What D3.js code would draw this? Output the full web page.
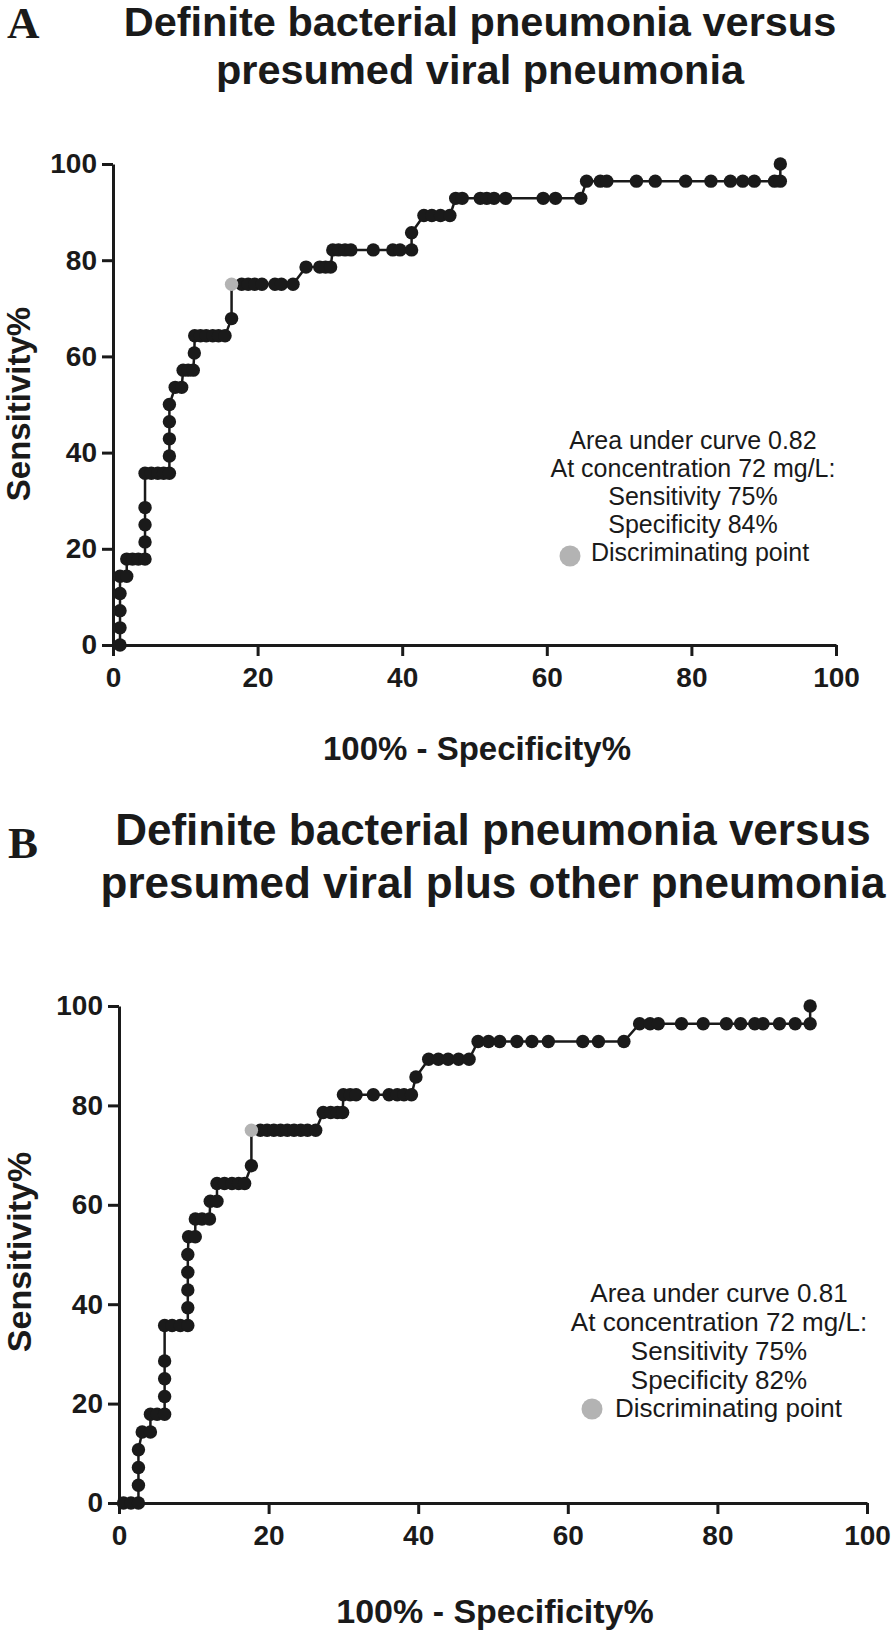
<!DOCTYPE html>
<html><head><meta charset="utf-8">
<script src="https://cdn.jsdelivr.net/npm/d3@7"></script>
<style>body{margin:0;background:#fff}svg{display:block}</style>
</head><body><svg id="c" width="894" height="1635"></svg>
<script>
// ---------- DATA ----------
const axisTicks = [0, 20, 40, 60, 80, 100];

const titleA = ["Definite bacterial pneumonia versus", "presumed viral pneumonia"];
const titleB = ["Definite bacterial pneumonia versus", "presumed viral plus other pneumonia"];
const xAxisTitle = "100% - Specificity%";
const yAxisTitle = "Sensitivity%";

const notesA = ["Area under curve 0.82", "At concentration 72 mg/L:", "Sensitivity 75%", "Specificity 84%"];
const notesB = ["Area under curve 0.81", "At concentration 72 mg/L:", "Sensitivity 75%", "Specificity 82%"];
const legendLabel = "Discriminating point";

// Panel A: 100% - specificity (x) and sensitivity (y)
const rocA_x = [
  0.97, 0.97, 0.97, 0.97, 0.97,
  1.9,
  1.9, 2.7, 3.5, 4.43,
  4.43, 4.43, 4.43,
  4.43, 5.3, 6.2, 7.0, 7.8,
  7.8, 7.8, 7.8, 7.8,
  8.6, 9.5,
  9.7, 10.4, 11.1,
  11.25,
  11.3, 12.1, 12.9, 13.8, 14.6, 15.5,
  16.4,
  16.4, 17.8, 18.7, 19.6, 20.6, 22.4, 23.3, 24.9,
  26.7, 28.6, 29.4, 30.1,
  30.4, 31.2, 32.1, 32.9, 36.0, 38.7, 39.7, 41.3,
  41.3,
  43.0, 44.1, 45.3, 46.6,
  47.4, 48.3, 50.8, 51.7, 52.7, 54.3, 59.5, 61.2, 64.7,
  65.5, 67.4, 68.3, 72.4, 75.0, 79.2, 82.7, 85.4, 87.1, 88.7, 91.5, 92.3,
  92.3
];
const rocA_y = [
  0, 3.57, 7.14, 10.71, 14.29,
  14.29,
  17.86, 17.86, 17.86, 17.86,
  21.43, 25, 28.57,
  35.71, 35.71, 35.71, 35.71, 35.71,
  39.29, 42.86, 46.43, 50,
  53.57, 53.57,
  57.14, 57.14, 57.14,
  60.71,
  64.29, 64.29, 64.29, 64.29, 64.29, 64.29,
  67.86,
  75, 75, 75, 75, 75, 75, 75, 75,
  78.57, 78.57, 78.57, 78.57,
  82.14, 82.14, 82.14, 82.14, 82.14, 82.14, 82.14, 82.14,
  85.71,
  89.29, 89.29, 89.29, 89.29,
  92.86, 92.86, 92.86, 92.86, 92.86, 92.86, 92.86, 92.86, 92.86,
  96.43, 96.43, 96.43, 96.43, 96.43, 96.43, 96.43, 96.43, 96.43, 96.43, 96.43, 96.43,
  100
];
const discA = [16.4, 75];

// Panel B
const rocB_x = [
  0.6, 1.6, 2.6,
  2.6, 2.6, 2.6,
  3.1, 4.2,
  4.2, 5.1, 6.1,
  6.1, 6.1, 6.1,
  6.1, 7.1, 8.2, 9.2,
  9.2, 9.2, 9.2, 9.2,
  9.3, 10.2,
  10.2, 11.1, 12.1,
  12.2, 13.1,
  13.1, 14.1, 15.1, 16.0, 16.8,
  17.7,
  17.7, 18.9, 19.8, 20.7, 21.6, 22.5, 23.4, 24.3, 25.2, 26.3,
  27.3, 28.3, 29.2, 29.9,
  30.0, 30.9, 31.7, 34.0, 36.1, 37.2, 38.1, 39.1,
  39.7,
  41.4, 42.7, 44.0, 45.4, 46.8,
  48.0, 49.4, 50.9, 53.2, 55.2, 57.4, 62.0, 64.1, 67.5,
  69.6, 71.0, 72.1, 75.2, 78.1, 81.2, 83.1, 85.0, 86.1, 88.3, 90.4, 92.4,
  92.4
];
const rocB_y = [
  0, 0, 0,
  3.57, 7.14, 10.71,
  14.29, 14.29,
  17.86, 17.86, 17.86,
  21.43, 25, 28.57,
  35.71, 35.71, 35.71, 35.71,
  39.29, 42.86, 46.43, 50,
  53.57, 53.57,
  57.14, 57.14, 57.14,
  60.71, 60.71,
  64.29, 64.29, 64.29, 64.29, 64.29,
  67.86,
  75, 75, 75, 75, 75, 75, 75, 75, 75, 75,
  78.57, 78.57, 78.57, 78.57,
  82.14, 82.14, 82.14, 82.14, 82.14, 82.14, 82.14, 82.14,
  85.71,
  89.29, 89.29, 89.29, 89.29, 89.29,
  92.86, 92.86, 92.86, 92.86, 92.86, 92.86, 92.86, 92.86, 92.86,
  96.43, 96.43, 96.43, 96.43, 96.43, 96.43, 96.43, 96.43, 96.43, 96.43, 96.43, 96.43,
  100
];
const discB = [17.7, 75];

// ---------- DRAW ----------
const svg = d3.select("#c");
const INK = "#1a1a1a";
const GRAY = "#b3b3b3";
const SANS = "'Liberation Sans', Arial, Helvetica, sans-serif";
const SERIF = "'Liberation Serif', 'Times New Roman', serif";

function drawPanel(cfg) {
  const g = svg.append("g");
  const x = d3.scaleLinear().domain([0, 100]).range(cfg.xRange);
  const y = d3.scaleLinear().domain([0, 100]).range(cfg.yRange);

  // panel letter
  g.append("text").attr("x", cfg.letterPos[0]).attr("y", cfg.letterPos[1])
    .attr("font-family", SERIF).attr("font-weight", "bold").attr("font-size", 45)
    .attr("fill", INK).text(cfg.letter);

  // title
  cfg.title.forEach((t, i) => {
    g.append("text").attr("x", cfg.titleX).attr("y", cfg.titleY[i])
      .attr("text-anchor", "middle").attr("font-family", SANS).attr("font-weight", "bold")
      .attr("font-size", cfg.titleSize).attr("fill", INK).text(t);
  });

  // axes
  const xAxis = d3.axisBottom(x).tickValues(axisTicks).tickSize(11).tickSizeOuter(0).tickPadding(11);
  const yAxis = d3.axisLeft(y).tickValues(axisTicks).tickSize(11).tickSizeOuter(0).tickPadding(5);
  const gx = g.append("g").attr("transform", `translate(0,${cfg.yRange[0]})`).call(xAxis);
  const gy = g.append("g").attr("transform", `translate(${cfg.xRange[0]},0)`).call(yAxis);
  [gx, gy].forEach(a => {
    a.select(".domain").attr("stroke", INK).attr("stroke-width", 3);
    a.selectAll(".tick line").attr("stroke", INK).attr("stroke-width", 3);
    a.selectAll(".tick text").attr("font-family", SANS).attr("font-weight", "bold")
      .attr("font-size", 28).attr("fill", INK);
  });

  // axis titles
  g.append("text").attr("x", cfg.xTitlePos[0]).attr("y", cfg.xTitlePos[1])
    .attr("text-anchor", "middle").attr("font-family", SANS).attr("font-weight", "bold")
    .attr("font-size", cfg.axisTitleSize).attr("fill", INK).text(xAxisTitle);
  g.append("text")
    .attr("transform", `translate(${cfg.yTitlePos[0]},${cfg.yTitlePos[1]}) rotate(-90)`)
    .attr("text-anchor", "middle").attr("font-family", SANS).attr("font-weight", "bold")
    .attr("font-size", cfg.axisTitleSize).attr("fill", INK).text(yAxisTitle);

  // curve
  const pts = cfg.xs.map((v, i) => [v, cfg.ys[i]]);
  g.append("path").datum(pts)
    .attr("d", d3.line().x(d => x(d[0])).y(d => y(d[1])))
    .attr("fill", "none").attr("stroke", INK).attr("stroke-width", 2.5);
  const isDisc = d => d[0] === cfg.disc[0] && d[1] === cfg.disc[1];
  g.selectAll("circle.pt").data(pts.filter(d => !isDisc(d))).join("circle")
    .attr("class", "pt").attr("cx", d => x(d[0])).attr("cy", d => y(d[1]))
    .attr("r", 6.7).attr("fill", INK);
  g.append("circle").attr("cx", x(cfg.disc[0])).attr("cy", y(cfg.disc[1]))
    .attr("r", 6.7).attr("fill", GRAY);

  // annotation
  cfg.notes.forEach((t, i) => {
    g.append("text").attr("x", cfg.noteX).attr("y", cfg.noteY[i])
      .attr("text-anchor", "middle").attr("font-family", SANS)
      .attr("font-size", cfg.noteSize).attr("fill", INK).text(t);
  });
  g.append("circle").attr("cx", cfg.legendDot[0]).attr("cy", cfg.legendDot[1])
    .attr("r", 10.5).attr("fill", GRAY);
  g.append("text").attr("x", cfg.legendText[0]).attr("y", cfg.legendText[1])
    .attr("font-family", SANS).attr("font-size", cfg.noteSize).attr("fill", INK).text(legendLabel);
}

drawPanel({
  letter: "A", letterPos: [7, 38],
  title: titleA, titleX: 480, titleY: [36, 84], titleSize: 41.5,
  xRange: [113, 836], yRange: [645, 164],
  xTitlePos: [477, 760], yTitlePos: [30, 404], axisTitleSize: 33,
  xs: rocA_x, ys: rocA_y, disc: discA,
  notes: notesA, noteX: 693, noteY: [449, 477, 505, 533], noteSize: 25,
  legendDot: [570, 556], legendText: [591, 561]
});

drawPanel({
  letter: "B", letterPos: [8, 858],
  title: titleB, titleX: 493, titleY: [845, 898], titleSize: 44,
  xRange: [119, 867], yRange: [1503, 1006],
  xTitlePos: [495, 1623], yTitlePos: [31, 1252], axisTitleSize: 34,
  xs: rocB_x, ys: rocB_y, disc: discB,
  notes: notesB, noteX: 719, noteY: [1302, 1331, 1360, 1389], noteSize: 26,
  legendDot: [592, 1409], legendText: [615, 1417]
});
</script></body></html>
